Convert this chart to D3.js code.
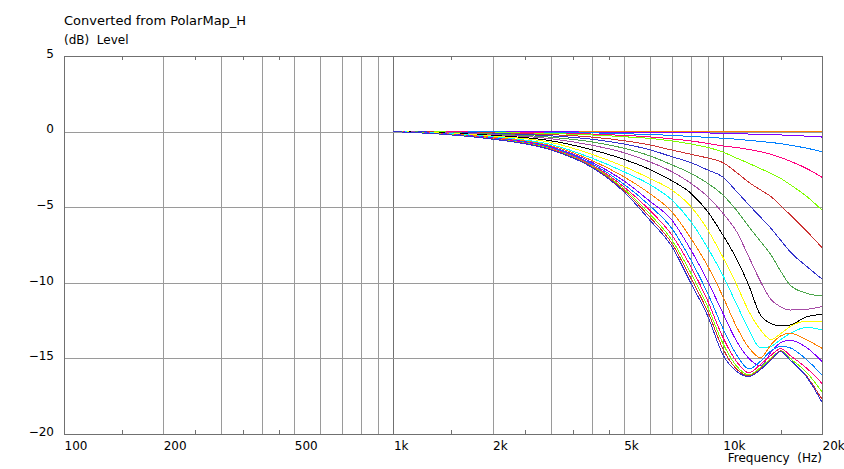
<!DOCTYPE html>
<html><head><meta charset="utf-8">
<script src="https://cdn.jsdelivr.net/npm/d3@7"></script>
<style>
html,body{margin:0;padding:0;background:#fff;}
svg{display:block;font-family:"DejaVu Sans",Verdana,sans-serif;}
text{white-space:pre;}
</style></head>
<body><svg id="c" width="844" height="469"></svg>
<script>
const title = "Converted from PolarMap_H";
const yTitle = "(dB)  Level";
const xTitle = "Frequency  (Hz)";
const freqs = [1000,1500,2000,3000,4000,5000,6000,7000,8000,9000,10000,11000,12000,13000,14000,15000,16000,18000,20000];
const angles = [0,5,10,15,20,25,30,35,40,45,50,55,60,65,70,75,80,85,90];
const colors = ["#FF8000","#8000FF","#0080FF","#FF0080","#80FF00","#CC3333","#3333CC","#4CA64C","#A64CA6","#000000","#FFFF00","#00FFFF","#FF8000","#8000FF","#0080FF","#FF0080","#80FF00","#CC3333","#3333CC"];
const s00 = [0,0,0,0,0,0,0,0,0,0,0,0,0,0,0,0,0,0,0];
const s05 = [0,0,-0.01,-0.02,-0.03,-0.04,-0.05,-0.06,-0.08,-0.09,-0.11,-0.13,-0.16,-0.18,-0.2,-0.22,-0.25,-0.3,-0.36];
const s10 = [0,-0.01,-0.02,-0.05,-0.08,-0.14,-0.19,-0.25,-0.32,-0.38,-0.44,-0.5,-0.58,-0.65,-0.72,-0.8,-0.9,-1.1,-1.33];
const s15 = [0,-0.02,-0.04,-0.1,-0.16,-0.25,-0.35,-0.48,-0.62,-0.78,-0.95,-1.05,-1.18,-1.33,-1.5,-1.72,-1.95,-2.45,-3.02];
const s20 = [0,-0.03,-0.06,-0.13,-0.22,-0.34,-0.45,-0.62,-0.82,-1.05,-1.35,-1.75,-2.1,-2.45,-2.76,-3.1,-3.5,-4.3,-5.19];
const s25 = [0,-0.04,-0.09,-0.2,-0.36,-0.6,-0.88,-1.22,-1.5,-1.75,-2.05,-2.7,-3.36,-3.85,-4.3,-4.9,-5.5,-6.6,-7.68];
const s30 = [0,-0.05,-0.12,-0.28,-0.5,-0.82,-1.2,-1.66,-2.05,-2.54,-3.0,-3.95,-4.85,-5.65,-6.4,-7.2,-7.94,-8.93,-9.75];
const s35 = [0,-0.07,-0.16,-0.37,-0.68,-1.1,-1.6,-2.2,-2.76,-3.42,-4.19,-5.2,-6.3,-7.25,-8.16,-9.25,-10.15,-10.7,-10.87];
const s40 = [0,-0.09,-0.2,-0.47,-0.9,-1.39,-2.0,-2.65,-3.42,-4.3,-5.4,-6.6,-8.3,-9.9,-11.1,-11.6,-11.8,-11.75,-11.58];
const s45 = [0,-0.11,-0.25,-0.6,-1.2,-1.83,-2.5,-3.25,-4.08,-5.3,-6.84,-8.4,-10.2,-12.13,-12.7,-12.86,-12.79,-12.24,-12.09];
const s50 = [0,-0.13,-0.3,-0.71,-1.5,-2.3,-3.1,-3.86,-4.96,-6.5,-8.3,-10.1,-11.9,-13.1,-13.75,-13.35,-12.9,-12.53,-12.57];
const s55 = [0,-0.15,-0.35,-0.85,-1.75,-2.65,-3.5,-4.52,-5.96,-7.7,-9.5,-11.4,-13.1,-14.3,-14.2,-13.75,-13.35,-12.95,-13.12];
const s60 = [0,-0.17,-0.39,-0.93,-1.9,-2.98,-4.1,-5.3,-7.06,-8.9,-10.9,-12.9,-14.3,-14.95,-14.1,-13.5,-13.34,-13.78,-14.33];
const s65 = [0,-0.18,-0.42,-1.0,-2.02,-3.25,-4.6,-5.85,-7.83,-9.9,-12.0,-13.85,-15.0,-15.5,-14.6,-13.95,-13.8,-14.3,-15.21];
const s70 = [0,-0.19,-0.44,-1.05,-2.12,-3.47,-4.9,-6.4,-8.5,-10.7,-13.0,-14.75,-15.7,-15.2,-14.5,-14.2,-14.3,-15.1,-16.1];
const s75 = [0,-0.2,-0.46,-1.1,-2.2,-3.64,-5.2,-6.84,-8.94,-11.2,-13.6,-15.2,-15.95,-15.4,-14.8,-14.35,-14.8,-15.66,-16.65];
const s80 = [0,-0.21,-0.48,-1.14,-2.27,-3.77,-5.45,-7.17,-9.37,-11.6,-14.0,-15.5,-16.1,-15.6,-15.0,-14.5,-15.0,-15.95,-17.2];
const s85 = [0,-0.22,-0.49,-1.17,-2.32,-3.87,-5.65,-7.39,-9.7,-11.9,-14.35,-15.7,-16.15,-15.7,-15.05,-14.5,-15.1,-16.2,-17.7];
const s90 = [0,-0.22,-0.5,-1.2,-2.36,-3.97,-5.85,-7.6,-10.03,-12.2,-14.75,-15.85,-16.2,-15.75,-15.1,-14.55,-15.1,-16.25,-17.9];
const series = [s00,s05,s10,s15,s20,s25,s30,s35,s40,s45,s50,s55,s60,s65,s70,s75,s80,s85,s90];

const xGrid = [200,300,400,500,600,700,800,900,1000,2000,3000,4000,5000,6000,7000,8000,9000,10000];
const xMinor = [150,250,350,450,1500,2500,3500,4500,15000];
const xTickVals = [100,200,500,1000,2000,5000,10000,20000];
const xTickLabels = ["100","200","500","1k","2k","5k","10k","20k"];
const yTickVals = [5,0,-5,-10,-15,-20];

const L=64, R=822, T=56, B=434;
const svg = d3.select("#c");
const x = d3.scaleLog().domain([100,20000]).range([L,R]);
const y = d3.scaleLinear().domain([-20,5]).range([B,T]);

// grid
const g = svg.append("g").attr("shape-rendering","crispEdges");
g.selectAll(".vg").data(xGrid).enter().append("line")
  .attr("x1",d=>Math.round(x(d))+0.5).attr("x2",d=>Math.round(x(d))+0.5)
  .attr("y1",T).attr("y2",B)
  .attr("stroke",d=>(d===1000||d===10000)?"#707070":"#9a9a9a").attr("stroke-width",1);
g.selectAll(".hg").data(yTickVals.filter(v=>v>-20&&v<5)).enter().append("line")
  .attr("x1",L).attr("x2",R)
  .attr("y1",d=>Math.round(y(d))+0.5).attr("y2",d=>Math.round(y(d))+0.5)
  .attr("stroke","#9a9a9a").attr("stroke-width",1);
// minor ticks
g.selectAll(".mt").data(xMinor).enter().append("line")
  .attr("x1",d=>Math.round(x(d))+0.5).attr("x2",d=>Math.round(x(d))+0.5)
  .attr("y1",B-4).attr("y2",B).attr("stroke","#707070");
g.selectAll(".mt2").data(xMinor).enter().append("line")
  .attr("x1",d=>Math.round(x(d))+0.5).attr("x2",d=>Math.round(x(d))+0.5)
  .attr("y1",T).attr("y2",T+4).attr("stroke","#707070");

// curves
const line = d3.line().x((d,i)=>x(freqs[i])).y(d=>y(d)).curve(d3.curveMonotoneX);
svg.append("g").attr("shape-rendering","crispEdges").selectAll("path").data(series).enter().append("path")
  .attr("d",d=>line(d)).attr("fill","none")
  .attr("stroke",(d,i)=>colors[i]).attr("stroke-width",1);

// frame
svg.append("rect").attr("x",L+0.5).attr("y",T+0.5).attr("width",R-L).attr("height",B-T)
  .attr("fill","none").attr("stroke","#707070").attr("shape-rendering","crispEdges");

// axes labels
const ax = svg.append("g").attr("transform",`translate(0,${B})`)
  .call(d3.axisBottom(x).tickValues(xTickVals).tickFormat((d,i)=>xTickLabels[i]).tickSize(0).tickPadding(7));
ax.select(".domain").remove();
ax.selectAll("text").attr("text-anchor","start").attr("font-size",12).attr("font-family","DejaVu Sans").attr("fill","#000");
const ay = svg.append("g").attr("transform",`translate(${L},0)`)
  .call(d3.axisLeft(y).tickValues(yTickVals).tickSize(0).tickPadding(10));
ay.select(".domain").remove();
ay.selectAll("text").attr("font-size",12).attr("font-family","DejaVu Sans").attr("fill","#000").attr("dy","0.1em");

svg.append("text").attr("x",L).attr("y",25).attr("font-size",13).attr("fill","#000").text(title);
svg.append("text").attr("x",L).attr("y",44).attr("font-size",12).attr("fill","#000").text(yTitle);
svg.append("text").attr("x",R).attr("y",462).attr("text-anchor","end").attr("font-size",12).attr("fill","#000").text(xTitle);
</script></body></html>
